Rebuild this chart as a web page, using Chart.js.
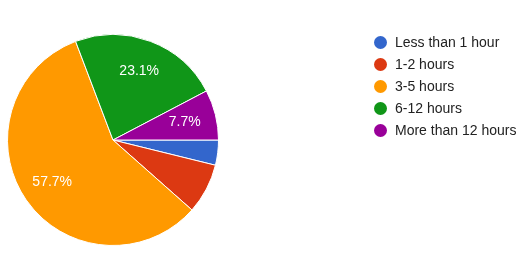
<!DOCTYPE html>
<html>
<head>
<meta charset="utf-8">
<script src="https://cdn.jsdelivr.net/npm/chart.js@4"></script>
<style>
  body { margin: 0; background: #fff; }
  #wrap { position: relative; width: 525px; height: 257px; }
  #legend { position: absolute; left: 374px; top: 33px; font-family: "Liberation Sans", Arial, sans-serif; font-size: 14px; color: #222; }
  .item { height: 22px; line-height: 18px; white-space: nowrap; }
  .dot { display: inline-block; width: 13px; height: 13px; border-radius: 50%; vertical-align: -2px; margin-right: 8px; }
</style>
</head>
<body>
<div id="wrap">
  <canvas id="pieChart" width="525" height="257"></canvas>
  <div id="legend"></div>
</div>
<script>
const labels = ['Less than 1 hour', '1-2 hours', '3-5 hours', '6-12 hours', 'More than 12 hours'];
const counts = [1, 2, 15, 6, 2];
const colors = ['#3366cc', '#dc3912', '#ff9900', '#109618', '#990099'];
// the picture only prints a percentage on these slices
const showPct = [false, false, true, true, true];

const total = counts.reduce((a, b) => a + b, 0);

// percentage text inside the slices
const sliceLabels = {
    id: 'sliceLabels',
    afterDatasetsDraw(chart) {
        const ctx = chart.ctx;
        const meta = chart.getDatasetMeta(0);
        ctx.save();
        ctx.font = '14px "Liberation Sans", Arial, sans-serif';
        ctx.fillStyle = '#fff';
        ctx.textAlign = 'center';
        ctx.textBaseline = 'middle';
        meta.data.forEach((arc, i) => {
            if (!showPct[i]) return;
            const pct = counts[i] / total * 100;
            const mid = (arc.startAngle + arc.endAngle) / 2;
            const r = arc.outerRadius * 0.7;
            ctx.fillText(pct.toFixed(1) + '%', arc.x + Math.cos(mid) * r, arc.y + Math.sin(mid) * r);
        });
        ctx.restore();
    }
};

const ctx = document.getElementById('pieChart').getContext('2d');
const pieChart = new Chart(ctx, {
    type: 'pie',
    data: {
        labels: labels,
        datasets: [{
            data: counts,
            backgroundColor: colors,
            borderColor: '#fff',
            borderWidth: 1
        }]
    },
    options: {
        responsive: false,
        animation: false,
        rotation: 90,
        layout: { padding: { left: 7, top: 34, right: 306, bottom: 11 } },
        plugins: {
            legend: { display: false },
            tooltip: { enabled: false }
        }
    },
    plugins: [sliceLabels]
});

const legend = document.getElementById('legend');
labels.forEach((name, i) => {
    const row = document.createElement('div');
    row.className = 'item';
    row.innerHTML = '<span class="dot" style="background:' + colors[i] + '"></span>' + name;
    legend.appendChild(row);
});
</script>
</body>
</html>
